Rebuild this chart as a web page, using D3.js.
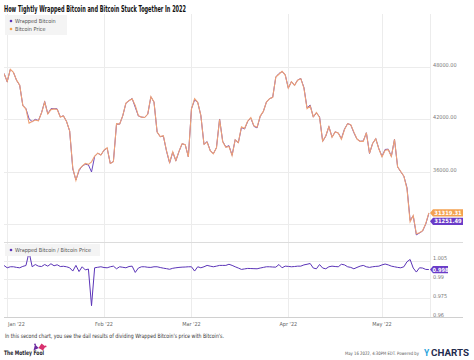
<!DOCTYPE html>
<html>
<head>
<meta charset="UTF-8">
<title>Wrapped Bitcoin vs Bitcoin</title>
<script src="https://d3js.org/d3.v7.min.js"></script>
<style>
    body { margin: 0; background: #fff; }
    svg { font-family: "Liberation Sans Narrow", "DejaVu Sans Condensed", Roboto, sans-serif; }
    .grid line { stroke: #ececec; stroke-width: 1; }
    .ylab { font-size: 5.5px; fill: #777; }
    .xlab { font-size: 5.5px; fill: #666; }
    .legend text { font-size: 5.5px; fill: #555; }
</style>
</head>
<body>
<script>
// daily closes, plotted at the close timestamp (Dec 31 2021 ... May 16 2022)
const dates = d3.timeDay.range(new Date(2021, 11, 31), new Date(2022, 4, 17));

const bitcoin = [
    47178, 46306, 47686, 47345, 46458, 45897, 43569, 43160, 41558, 41733,
    41911, 41821, 42735, 43949, 42591, 43099, 43177, 43113, 42250, 42375,
    41744, 40680, 36457, 35030, 36276, 36654, 36954, 36852, 37138, 37784,
    38138, 37917, 38483, 38743, 36952, 37154, 41501, 41441, 42412, 43840,
    44118, 44338, 43565, 42407, 42244, 42197, 42586, 44575, 43961, 40538,
    40030, 40122, 38431, 37075, 38286, 37296, 38332, 39214, 39105, 37709,
    43193, 44354, 43925, 42452, 39138, 39400, 38420, 38062, 38737, 41982,
    39437, 38794, 38904, 37849, 39666, 39338, 41143, 40951, 41801, 42190,
    41247, 41078, 42358, 42892, 43960, 44349, 44500, 46820, 47128, 47465,
    47063, 45538, 46281, 45868, 46453, 46622, 45555, 43206, 43504, 42287,
    42782, 42207, 39521, 40127, 41166, 39935, 40553, 40424, 39716, 40826,
    41502, 41375, 40527, 39741, 39470, 39470, 40458, 38118, 39242, 39773,
    38610, 37714, 38469, 38529, 37750, 39698, 36575, 36040, 35501, 34059,
    30297, 31023, 28936, 29048, 29283, 30101, 31319.31
];

const wrappedBitcoin = [
    47225, 46269, 47686, 47345, 46435, 45860, 43582, 43203, 42040, 41733,
    41986, 41842, 42744, 44028, 42612, 43202, 43212, 43182, 42258, 42392,
    41744, 40647, 36333, 35069, 36138, 36654, 36862, 36793, 35987, 37754,
    38123, 37917, 38460, 38712, 36952, 37173, 41435, 41441, 42395, 43805,
    44127, 44360, 43369, 42365, 42244, 42197, 42569, 44553, 43961, 40538,
    40006, 40078, 38373, 37001, 38240, 37266, 38313, 39202, 39097, 37709,
    43193, 44203, 43925, 42418, 39138, 39443, 38439, 38062, 38756, 42028,
    39480, 38837, 38982, 37891, 39666, 39299, 41057, 40881, 41747, 42131,
    41185, 41012, 42316, 42871, 43960, 44349, 44491, 46806, 47213, 47427,
    47087, 45552, 46281, 45877, 46476, 46645, 45623, 43292, 43617, 42245,
    42714, 42283, 39481, 40063, 41166, 39955, 40561, 40424, 39795, 40887,
    41502, 41354, 40462, 39721, 39490, 39513, 40458, 38099, 39242, 39785,
    38629, 37771, 38554, 38587, 37769, 39698, 36557, 36011, 35501, 34195,
    30473, 30992, 28814, 29025, 29254, 30038, 31251.49
];

const ratio = [
    1.0010, 0.9992, 1.0000, 1.0000, 0.9995, 0.9992, 1.0003, 1.0010, 1.0116, 1.0000,
    1.0018, 1.0005, 1.0002, 1.0018, 1.0005, 1.0024, 1.0008, 1.0016, 1.0002, 1.0004,
    1.0000, 0.9992, 0.9966, 1.0011, 0.9962, 1.0000, 0.9975, 0.9982, 0.9690, 0.9992,
    0.9996, 1.0000, 0.9994, 0.9992, 1.0000, 1.0005, 0.9984, 1.0000, 0.9996, 0.9992,
    1.0002, 1.0005, 0.9955, 0.9990, 1.0000, 1.0000, 0.9996, 0.9995, 1.0000, 1.0000,
    0.9994, 0.9989, 0.9985, 0.9980, 0.9988, 0.9992, 0.9995, 0.9997, 0.9998, 1.0000,
    1.0000, 0.9966, 1.0000, 0.9992, 1.0000, 1.0011, 1.0005, 1.0000, 1.0005, 1.0011,
    1.0011, 1.0011, 1.0020, 1.0011, 1.0000, 0.9990, 0.9979, 0.9983, 0.9987, 0.9986,
    0.9985, 0.9984, 0.9990, 0.9995, 1.0000, 1.0000, 0.9998, 0.9997, 1.0018, 0.9992,
    1.0005, 1.0003, 1.0000, 1.0002, 1.0005, 1.0005, 1.0015, 1.0020, 1.0026, 0.9990,
    0.9984, 1.0018, 0.9990, 0.9984, 1.0000, 1.0005, 1.0002, 1.0000, 1.0020, 1.0015,
    1.0000, 0.9995, 0.9984, 0.9995, 1.0005, 1.0011, 1.0000, 0.9995, 1.0000, 1.0003,
    1.0005, 1.0015, 1.0022, 1.0015, 1.0005, 1.0000, 0.9995, 0.9992, 1.0000, 1.0040,
    1.0058, 0.9990, 0.9958, 0.9992, 0.9990, 0.9979, 0.9978
];

const priceTicks = [30000, 36000, 42000, 48000];
const priceLabels = [36000, 42000, 48000];
const ratioTicks = [1.005, 0.99, 0.975, 0.96];
const monthTicks = [new Date(2022, 0, 1), new Date(2022, 1, 1), new Date(2022, 2, 1),
                    new Date(2022, 3, 1), new Date(2022, 4, 1)];
const monthLabels = ["Jan '22", "Feb '22", "Mar '22", "Apr '22", "May '22"];

const purple = "#5b34b8";
const orange = "#eea176";

const W = 474, H = 360;
const plotL = 4, plotR = 430, fullR = 463;
const topT = 14, topB = 242, botT = 244, botB = 317;

const svg = d3.select("body").append("svg")
    .attr("width", W).attr("height", H);

const x = d3.scaleTime()
    .domain([new Date(2022, 0, 1), new Date(2022, 4, 1)])
    .range([7.2, 382]);

const yTop = d3.scaleLinear().domain([28000, 54000]).range([topB, topT]);
const yBot = d3.scaleLinear().domain([0.96, 1.005]).range([botB, 260.5]);

// title
svg.append("text")
    .attr("x", 4).attr("y", 12)
    .attr("textLength", 182).attr("lengthAdjust", "spacingAndGlyphs")
    .style("font-size", "8.5px").style("font-weight", "bold").style("fill", "#111")
    .text("How Tightly Wrapped Bitcoin and Bitcoin Stuck Together In 2022");

// grid
const grid = svg.append("g").attr("class", "grid");
grid.selectAll(".hTop").data(priceTicks).join("line")
    .attr("x1", plotL).attr("x2", plotR)
    .attr("y1", d => Math.round(yTop(d)) + 0.5).attr("y2", d => Math.round(yTop(d)) + 0.5);
grid.selectAll(".hBot").data(ratioTicks.slice(0, 3)).join("line")
    .attr("x1", plotL).attr("x2", plotR)
    .attr("y1", d => Math.round(yBot(d)) + 0.5).attr("y2", d => Math.round(yBot(d)) + 0.5);
grid.selectAll(".v").data(monthTicks).join("line")
    .attr("x1", d => Math.round(x(d)) + 0.5).attr("x2", d => Math.round(x(d)) + 0.5)
    .attr("y1", topT).attr("y2", botB);
grid.append("line")
    .attr("x1", plotR + 0.5).attr("x2", plotR + 0.5).attr("y1", topT).attr("y2", botB);

// panel separators / axis
svg.append("line").attr("x1", plotL).attr("x2", fullR)
    .attr("y1", topB + 0.5).attr("y2", topB + 0.5).attr("stroke", "#dcdcdc");
svg.append("line").attr("x1", plotL).attr("x2", fullR)
    .attr("y1", botB + 0.5).attr("y2", botB + 0.5).attr("stroke", "#d0d0d0");

// y labels
svg.selectAll(".pl").data(priceLabels).join("text")
    .attr("class", "ylab")
    .attr("x", 433).attr("y", d => yTop(d) - 2).attr("dy", "0.35em")
    .text(d => d3.format(".2f")(d));
svg.selectAll(".rl").data(ratioTicks).join("text")
    .attr("class", "ylab")
    .attr("x", 433).attr("y", d => yBot(d) - 2).attr("dy", "0.35em")
    .text(d => d3.format("")(d));

// x labels
svg.selectAll(".xl").data(monthTicks).join("text")
    .attr("class", "xlab")
    .attr("x", (d, i) => i === 0 ? 8 : x(d))
    .attr("y", 325.5)
    .attr("text-anchor", (d, i) => i === 0 ? "start" : "middle")
    .text((d, i) => monthLabels[i]);

// clip
svg.append("clipPath").attr("id", "clipTop").append("rect")
    .attr("x", plotL).attr("y", topT).attr("width", plotR - plotL).attr("height", topB - topT);
svg.append("clipPath").attr("id", "clipBot").append("rect")
    .attr("x", plotL).attr("y", botT).attr("width", plotR - plotL).attr("height", botB - botT);

const lineTop = (vals) => d3.line()
    .x((d, i) => x(dates[i]))
    .y(d => yTop(d))(vals);

svg.append("path")
    .attr("clip-path", "url(#clipTop)")
    .attr("d", lineTop(wrappedBitcoin))
    .attr("fill", "none").attr("stroke", purple).attr("stroke-width", 0.9);
svg.append("path")
    .attr("clip-path", "url(#clipTop)")
    .attr("d", lineTop(bitcoin))
    .attr("fill", "none").attr("stroke", orange).attr("stroke-width", 1.1);

svg.append("path")
    .attr("clip-path", "url(#clipBot)")
    .attr("d", d3.line().x((d, i) => x(dates[i])).y(d => yBot(d))(ratio))
    .attr("fill", "none").attr("stroke", purple).attr("stroke-width", 1);

// legends
function legend(xp, yp, w, items) {
    const g = svg.append("g").attr("class", "legend");
    g.append("rect").attr("x", xp).attr("y", yp).attr("width", w)
        .attr("height", items.length * 8 + 4).attr("fill", "#f4f4f4");
    items.forEach((it, i) => {
        const cy = yp + 6 + i * 8;
        g.append("circle").attr("cx", xp + 6).attr("cy", cy).attr("r", 1.3).attr("fill", it.color);
        g.append("text").attr("x", xp + 10).attr("y", cy).attr("dy", "0.35em").text(it.name);
    });
}
legend(5, 15, 62, [{ name: "Wrapped Bitcoin", color: purple }, { name: "Bitcoin Price", color: "#f3a14f" }]);
legend(5, 244, 95, [{ name: "Wrapped Bitcoin / Bitcoin Price", color: purple }]);

// value tags
function tag(yc, color, label, right, fs) {
    svg.append("path")
        .attr("d", `M${plotR},${yc} L${plotR + 3},${yc - 3.6} L${right},${yc - 3.6} L${right},${yc + 3.6} L${plotR + 3},${yc + 3.6} Z`)
        .attr("fill", color);
    svg.append("text")
        .attr("x", (plotR + 3 + right) / 2).attr("y", yc).attr("dy", "0.36em")
        .attr("text-anchor", "middle")
        .style("font-size", fs).style("font-weight", "bold").style("fill", "#fff")
        .text(label);
}
const lastBtc = bitcoin[bitcoin.length - 1];
const lastWbtc = wrappedBitcoin[wrappedBitcoin.length - 1];
const yb = yTop(lastBtc);
const yw = Math.max(yTop(lastWbtc), yb + 8.4);
tag(yb, "#f3a14f", d3.format(".2f")(lastBtc), fullR, "5.8px");
tag(yw, "#6a3cc8", d3.format(".2f")(lastWbtc), fullR, "5.8px");
const lastRatio = ratio[ratio.length - 1];
tag(yBot(lastRatio), "#6a3cc8", d3.format(".3f")(lastRatio), 448, "5.6px");

// caption
svg.append("text")
    .attr("x", 5).attr("y", 338)
    .attr("textLength", 219).attr("lengthAdjust", "spacingAndGlyphs")
    .style("font-size", "6px").style("fill", "#333")
    .text("In this second chart, you see the dail results of dividing Wrapped Bitcoin's price with Bitcoin's.");

// Motley Fool mark
svg.append("path").attr("d", "M33.5,350.5 L35,344.5 L38.8,348 Z").attr("fill", "#6c2aa0");
svg.append("path").attr("d", "M38.5,348 L41.5,343.5 L45.5,346.5 L43,350.5 Z").attr("fill", "#d8306e");
svg.append("circle").attr("cx", 35).attr("cy", 344.3).attr("r", 0.9).attr("fill", "#6c2aa0");
svg.append("circle").attr("cx", 45.6).attr("cy", 346.4).attr("r", 0.9).attr("fill", "#d8306e");
svg.append("text")
    .attr("x", 4).attr("y", 354.5)
    .attr("textLength", 40).attr("lengthAdjust", "spacingAndGlyphs")
    .style("font-size", "6.2px").style("font-weight", "bold").style("fill", "#1c1c2c")
    .text("The Motley Fool");

// footer right
svg.append("text")
    .attr("x", 419).attr("y", 354.5).attr("text-anchor", "end")
    .attr("textLength", 74).attr("lengthAdjust", "spacingAndGlyphs")
    .style("font-size", "4.6px").style("fill", "#555")
    .text("May 16 2022, 4:30PM EDT.  Powered by");
svg.append("text")
    .attr("x", 424).attr("y", 356)
    .style("font-size", "8.5px").style("font-weight", "bold")
    .style("font-family", "Roboto, 'DejaVu Sans', sans-serif").style("fill", "#2ba3dc")
    .text("Y");
svg.append("text")
    .attr("x", 431).attr("y", 356)
    .attr("textLength", 38).attr("lengthAdjust", "spacingAndGlyphs")
    .style("font-size", "8.5px").style("font-weight", "bold")
    .style("font-family", "Roboto, 'DejaVu Sans', sans-serif").style("fill", "#1f2b4d")
    .text("CHARTS");
</script>
</body>
</html>
